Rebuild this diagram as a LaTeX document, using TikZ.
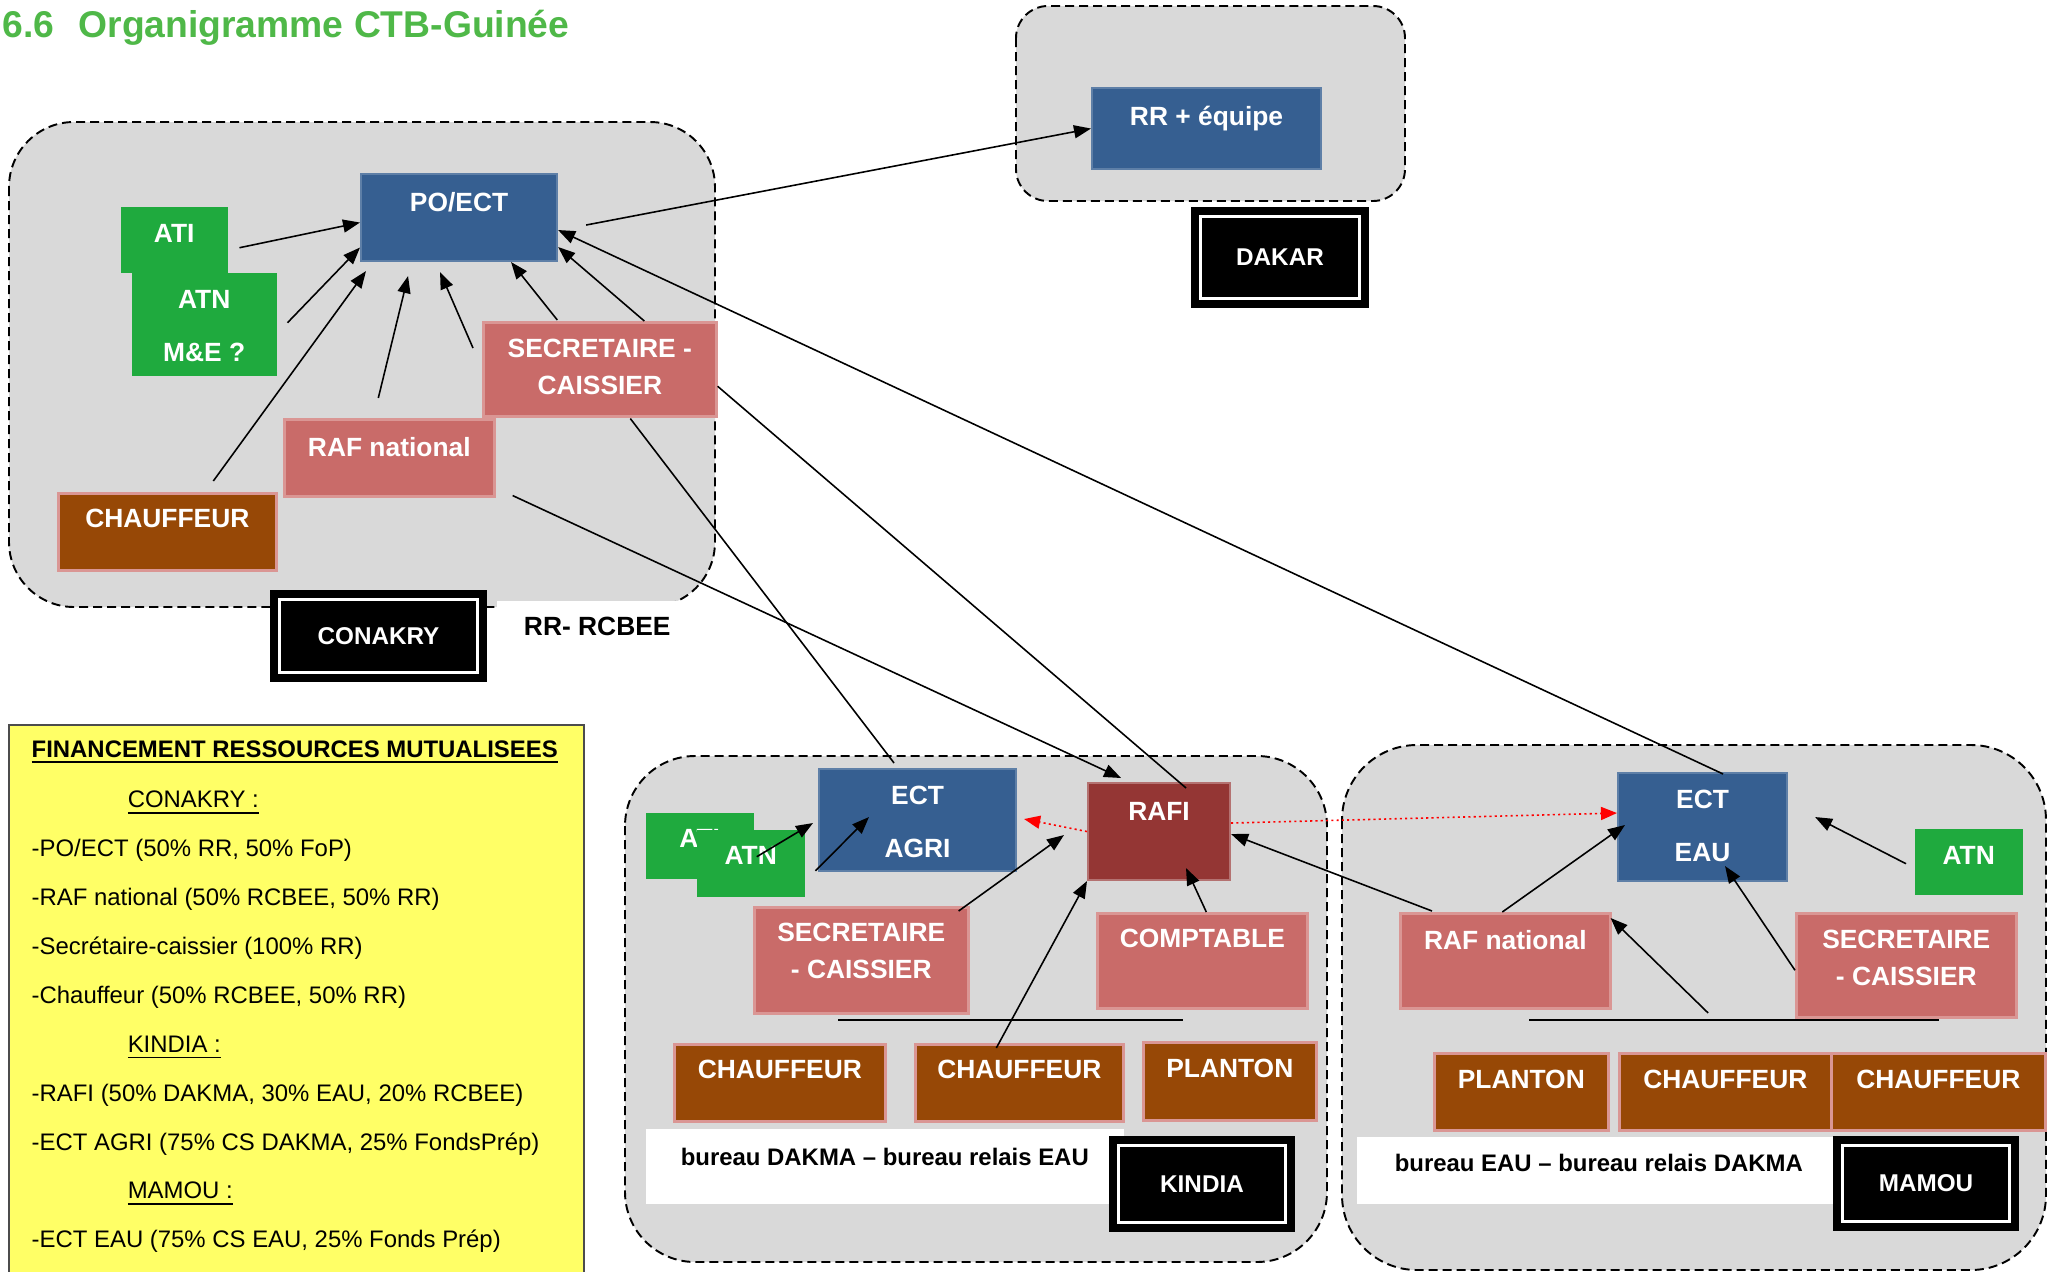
\documentclass[tikz,border=0pt]{standalone}
\usepackage{fontspec}
\setmainfont{Liberation Sans}
\usetikzlibrary{arrows.meta,calc}
\definecolor{cgris}{HTML}{D9D9D9}
\definecolor{cbleu}{HTML}{365F91}
\definecolor{crose}{HTML}{C96B69}
\definecolor{cbrun}{HTML}{974806}
\definecolor{cvert}{HTML}{1FAA3E}
\definecolor{crouge}{HTML}{943634}
\definecolor{ctitre}{HTML}{4FB848}
\definecolor{cjaune}{HTML}{FFFF66}
\definecolor{cbord}{HTML}{DA9694}
% texte en haut de la case : [marge]{largeur}{hauteur}{texte}
\newcommand{\contenu}[4][0.17cm]{\parbox[c][#3][t]{#2}{\centering\vspace*{#1}#4}}
\tikzset{
  zone/.style={fill=cgris, draw=black, line width=0.55pt, dash pattern=on 0.09cm off 0.05cm, rounded corners=#1},
  boite/.style={inner sep=0pt, anchor=north west, text=white, font=\fontsize{7.5}{10.5}\selectfont\bfseries},
  casebleue/.style={boite, fill=cbleu, draw=cbleu!80!white, line width=0.02cm},
  caseverte/.style={boite, fill=cvert},
  caserose/.style={boite, fill=crose, draw=cbord, line width=0.025cm},
  casebrune/.style={boite, fill=cbrun, draw=cbord, line width=0.025cm},
  caserouge/.style={boite, fill=crouge, draw=crouge!70!white, line width=0.02cm},
  cadreblanc/.style={boite, fill=white, text=black, font=\fontsize{6.8}{9}\selectfont\bfseries},
  etiquette/.style={fill=black, draw=white, line width=0.03cm, preaction={draw=black, line width=0.2cm}, text=white, inner sep=0pt, font=\fontsize{6.9}{9}\selectfont\bfseries},
  trait/.style={line width=0.45pt},
  fleche/.style={trait, -{Triangle[length=0.17cm,width=0.13cm]}},
  pointille/.style={red, line width=0.45pt, dash pattern=on 0.6pt off 0.9pt, -{Triangle[length=0.16cm,width=0.13cm]}}
}
\begin{document}
\begin{tikzpicture}[x=0.01cm, y=-0.01cm]
  \useasboundingbox (0,0) rectangle (2053,1272);

  % zones
  \draw[zone=0.65cm] (9,122) rectangle (715,607);
  \draw[zone=0.32cm] (1016,6) rectangle (1405,201);
  \draw[zone=0.7cm] (625,756) rectangle (1327,1262);
  \draw[zone=0.75cm] (1342,745) rectangle (2046,1270);

  % titre
  \node[anchor=base west, inner sep=0pt, text=ctitre, font=\fontsize{10.6}{12}\selectfont\bfseries] (titre) at (2,37.5) {6.6\hspace{0.24cm}Organigramme CTB-Guinée};

  % financement
  \fill[cjaune] (9,725) rectangle (584,1280);
  \draw[line width=0.4pt, black!70] (9,1280) -- (9,725) -- (584,725) -- (584,1280);
  \node[anchor=base west, inner sep=0pt, font=\fontsize{6.8}{13.9}\selectfont] (finance) at (31,757) {\parbox[t]{5.4cm}{%
    \textbf{\underline{FINANCEMENT RESSOURCES MUTUALISEES}}\\[0.02cm]
    \hspace*{0.96cm}\underline{CONAKRY :}\\
    -PO/ECT (50\% RR, 50\% FoP)\\
    -RAF national (50\% RCBEE, 50\% RR)\\
    -Secrétaire-caissier (100\% RR)\\
    -Chauffeur (50\% RCBEE, 50\% RR)\\
    \hspace*{0.96cm}\underline{KINDIA :}\\
    -RAFI (50\% DAKMA, 30\% EAU, 20\% RCBEE)\\
    -ECT AGRI (75\% CS DAKMA, 25\% FondsPrép)\\
    \hspace*{0.96cm}\underline{MAMOU :}\\
    -ECT EAU (75\% CS EAU, 25\% Fonds Prép)}};

  % Conakry
  \node[casebleue] (poect) at (360,173) {\contenu[0.18cm]{1.96cm}{0.87cm}{PO/ECT}};
  \node[caseverte] (ati) at (120,206) {\contenu[0.18cm]{1.07cm}{0.66cm}{ATI}};
  \node[caseverte] (atn) at (131,272) {\contenu[0.18cm]{1.45cm}{1.03cm}{ATN\\[0.16cm]M\&E ?}};
  \node[caserose] (secc) at (482,321) {\contenu{2.33cm}{0.94cm}{SECRETAIRE -\\CAISSIER}};
  \node[caserose] (rafc) at (283,418) {\contenu[0.18cm]{2.10cm}{0.77cm}{RAF national}};
  \node[casebrune] (chc) at (57,492) {\contenu[0.16cm]{2.18cm}{0.77cm}{CHAUFFEUR}};
  \node[cadreblanc, font=\fontsize{7.5}{9}\selectfont\bfseries] (rcbee) at (496,600) {\contenu[0.16cm]{2.01cm}{0.68cm}{RR- RCBEE}};
  \node[etiquette, minimum width=1.97cm, minimum height=0.72cm] (conakry) at (378.5,636) {CONAKRY};

  % Dakar
  \node[casebleue] (rr) at (1091,87) {\contenu[0.18cm]{2.29cm}{0.81cm}{RR + équipe}};
  \node[etiquette, minimum width=1.58cm, minimum height=0.81cm] (dakar) at (1280,257.5) {DAKAR};

  % Kindia
  \node[caseverte] (atik) at (645,812) {\contenu{1.08cm}{0.66cm}{ATI}};
  \node[caseverte] (atnk) at (696,829) {\contenu{1.08cm}{0.67cm}{ATN}};
  \node[casebleue] (ectagri) at (818,768) {\contenu{1.97cm}{1.02cm}{ECT\\[0.16cm]AGRI}};
  \node[caserouge] (rafi) at (1087,782) {\contenu[0.19cm]{1.42cm}{0.97cm}{RAFI}};
  \node[caserose] (seck) at (753,906) {\contenu[0.16cm]{2.14cm}{1.06cm}{SECRETAIRE\\- CAISSIER}};
  \node[caserose] (compt) at (1096,912) {\contenu[0.16cm]{2.10cm}{0.95cm}{COMPTABLE}};
  \node[casebrune] (chk1) at (673,1043) {\contenu[0.16cm]{2.11cm}{0.77cm}{CHAUFFEUR}};
  \node[casebrune] (chk2) at (914,1043) {\contenu[0.16cm]{2.08cm}{0.77cm}{CHAUFFEUR}};
  \node[casebrune] (plk) at (1142,1041) {\contenu{1.73cm}{0.78cm}{PLANTON}};
  \node[cadreblanc] (bureauk) at (645,1128) {\contenu[0.19cm]{4.78cm}{0.75cm}{bureau DAKMA – bureau relais EAU}};
  \node[etiquette, minimum width=1.66cm, minimum height=0.76cm] (kindia) at (1202,1184) {KINDIA};
  \coordinate (ligk-g) at (838,1020);
  \coordinate (ligk-d) at (1183,1020);
  \draw[trait] (ligk-g) -- (ligk-d);

  % Mamou
  \node[casebleue] (ecteau) at (1617,772) {\contenu{1.69cm}{1.08cm}{ECT\\[0.16cm]EAU}};
  \node[caseverte] (atnm) at (1914,828) {\contenu[0.18cm]{1.08cm}{0.66cm}{ATN}};
  \node[caserose] (rafm) at (1399,912) {\contenu{2.10cm}{0.95cm}{RAF national}};
  \node[caserose] (secm) at (1795,912) {\contenu{2.20cm}{1.04cm}{SECRETAIRE\\- CAISSIER}};
  \node[casebrune] (plm) at (1433,1052) {\contenu{1.74cm}{0.77cm}{PLANTON}};
  \node[casebrune] (chm1) at (1618,1052) {\contenu{2.12cm}{0.77cm}{CHAUFFEUR}};
  \node[casebrune] (chm2) at (1830,1052) {\contenu{2.14cm}{0.77cm}{CHAUFFEUR}};
  \node[cadreblanc] (bureaum) at (1356,1136) {\contenu{4.84cm}{0.67cm}{bureau EAU – bureau relais DAKMA}};
  \node[etiquette, minimum width=1.66cm, minimum height=0.75cm] (mamou) at (1926,1183.5) {MAMOU};
  \coordinate (ligm-g) at (1529,1020);
  \coordinate (ligm-d) at (1939,1020);
  \draw[trait] (ligm-g) -- (ligm-d);

  % liaisons Conakry
  \draw[fleche] ([shift={(11,8)}]ati.east) -- ([shift={(0,5)}]poect.west);
  \draw[fleche] ([shift={(10,-1.5)}]atn.east) -- ([shift={(0,30)}]poect.west);
  \draw[fleche] ([shift={(46,-11)}]chc.north) -- ([shift={(6,9)}]poect.south west);
  \draw[fleche] ([shift={(-11,-20)}]rafc.north) -- ([shift={(-51,14)}]poect.south);
  \draw[fleche] ([shift={(-9,27)}]secc.north west) -- ([shift={(-19,10)}]poect.south);
  \draw[fleche] ([shift={(-42.5,-1)}]secc.north) -- ([shift={(52,0)}]poect.south);
  \draw[fleche] ([shift={(44.5,0)}]secc.north) -- ([shift={(0,29.5)}]poect.east);
  \draw[fleche] ([shift={(28,7.5)}]poect.east) -- (rr.west);

  % liaisons longues
  \draw[fleche] ([shift={(20.5,2)}]ecteau.north) -- ([shift={(0,12.5)}]poect.east);
  \draw[trait] ([shift={(30.5,1)}]secc.south) -- ([shift={(-23.5,-5)}]ectagri.north);
  \draw[fleche] ([shift={(17,-2)}]rafc.south east) -- ([shift={(-38,-4)}]rafi.north);
  \draw[trait] ([shift={(0,17)}]secc.east) -- ([shift={(27,6)}]rafi.north);

  % liaisons Kindia
  \draw[fleche] ([shift={(6,-6.5)}]atnk.center) -- ([shift={(-5,3)}]ectagri.west);
  \draw[fleche] ([shift={(10,7.5)}]atnk.east) -- ([shift={(51,-3)}]ectagri.west);
  \draw[fleche] ([shift={(-11,5)}]seck.north east) -- ([shift={(-23,3.5)}]rafi.west);
  \draw[fleche] ([shift={(-23,5)}]chk2.north) -- (rafi.south west);
  \draw[fleche] ([shift={(4,0)}]compt.north) -- ([shift={(27,-13)}]rafi.south);
  \draw[fleche] ([shift={(33,-1)}]rafm.north west) -- ([shift={(0,2.5)}]rafi.east);
  \draw[pointille] (rafi.west) -- ([shift={(7,-1)}]ectagri.east);
  \draw[pointille] ([shift={(0,-8.5)}]rafi.east) -- ([shift={(0,-14)}]ecteau.west);

  % liaisons Mamou
  \draw[fleche] ([shift={(-3,0)}]rafm.north) -- ([shift={(8,-2)}]ecteau.west);
  \draw[fleche] ([shift={(-8,2)}]atnm.west) -- ([shift={(27,-10)}]ecteau.east);
  \draw[fleche] ([shift={(0,5)}]secm.west) -- ([shift={(22.5,-16)}]ecteau.south);
  \draw[fleche] ($(ligm-g)!0.437!(ligm-d)+(0,-7)$) -- ([shift={(-1,6)}]rafm.north east);
\end{tikzpicture}
\end{document}
